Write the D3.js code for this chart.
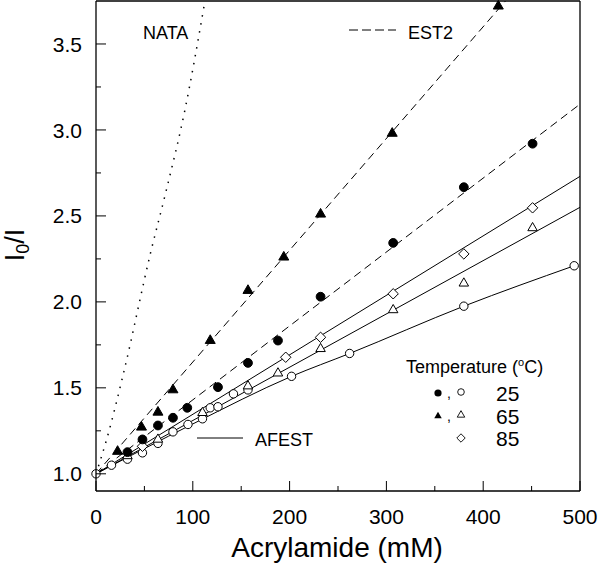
<!DOCTYPE html>
<html>
<head>
<meta charset="utf-8">
<script src="https://cdn.jsdelivr.net/npm/d3@7"></script>
<style>
  html, body { margin: 0; padding: 0; background: #fff; }
  svg { display: block; }
  text { font-family: "Liberation Sans", Arial, Helvetica, sans-serif; fill: #000; }
</style>
</head>
<body>
<svg id="chart" width="600" height="575"></svg>
<script>
// ---------------- data ----------------
const xTicks = [0, 100, 200, 300, 400, 500];
const xMinorTicks = [50, 150, 250, 350, 450];
const yTicks = [1.0, 1.5, 2.0, 2.5, 3.0, 3.5];
const yMinorTicks = [1.25, 1.75, 2.25, 2.75, 3.25];

// EST2, 25 °C (filled circles)
const est2_25_x = [32.5, 48, 64, 79.5, 94.3, 126, 157, 188, 232, 307, 380, 451];
const est2_25_y = [1.126, 1.20, 1.281, 1.326, 1.384, 1.504, 1.645, 1.775, 2.03, 2.343, 2.667, 2.92];
// EST2, 65 °C (filled triangles)
const est2_65_x = [22.3, 47, 64, 79.5, 118, 157, 194, 232, 306, 415.6];
const est2_65_y = [1.13, 1.271, 1.358, 1.488, 1.775, 2.066, 2.26, 2.51, 2.98, 3.72];
// AFEST, 25 °C (open circles)
const afest25_x = [0, 16, 32.5, 48, 64, 79.5, 95, 110, 118, 126, 142, 157, 202, 262, 380, 494];
const afest25_y = [1.0, 1.05, 1.085, 1.122, 1.177, 1.244, 1.287, 1.32, 1.384, 1.39, 1.465, 1.488, 1.567, 1.70, 1.975, 2.21];
// AFEST, 65 °C (open triangles)
const afest65_x = [32.5, 64, 110, 157, 188, 232, 307, 380, 451];
const afest65_y = [1.104, 1.20, 1.355, 1.51, 1.585, 1.727, 1.953, 2.108, 2.43];
// AFEST, 85 °C (open diamonds)
const afest85_x = [48, 196, 232, 307, 380, 451];
const afest85_y = [1.16, 1.678, 1.794, 2.047, 2.279, 2.547];

// fitted curves
const nataFit_x = [0, 11, 28, 57, 72, 92, 111.5];
const nataFit_y = [1.0, 1.2, 1.575, 2.30, 2.635, 3.12, 3.716];
const est2_65Fit_x = [0, 423];
const est2_65Fit_y = [1.0, 3.75];
const est2_25Fit_x = [0, 500];
const est2_25Fit_y = [1.0, 3.15];
const afest85Fit_x = [0, 500];
const afest85Fit_y = [1.0, 2.73];
const afest65Fit_x = [0, 500];
const afest65Fit_y = [1.0, 2.55];
const afest25Fit_x = [0, 100, 202, 262, 380, 494];
const afest25Fit_y = [1.0, 1.29, 1.567, 1.70, 1.975, 2.21];

const legendTitle = "Temperature (";
const legendTemps = ["25", "65", "85"];
const lineLabels = ["NATA", "EST2", "AFEST"];
const xTitle = "Acrylamide (mM)";

// ---------------- layout ----------------
const svg = d3.select("#chart");
const L = 96, R = 580, T = 1, B = 491;
const x = d3.scaleLinear().domain([0, 500]).range([L, R]);
const y = d3.scaleLinear().domain([0.9, 3.75]).range([B, T]);

const zip = (xs, ys) => xs.map((v, i) => [v, ys[i]]);

svg.append("defs").append("clipPath").attr("id", "clip")
  .append("rect").attr("x", L).attr("y", T).attr("width", R - L).attr("height", B - T);

const plot = svg.append("g").attr("clip-path", "url(#clip)");

// ---------- fit lines ----------
const lineGen = d3.line().x(d => x(d[0])).y(d => y(d[1]));
const curveGen = d3.line().x(d => x(d[0])).y(d => y(d[1])).curve(d3.curveMonotoneX);

function drawLine(xs, ys, dash, gen, width) {
  plot.append("path")
    .attr("d", (gen || lineGen)(zip(xs, ys)))
    .attr("fill", "none")
    .attr("stroke", "#000")
    .attr("stroke-width", width || 1)
    .attr("stroke-dasharray", dash || null);
}
drawLine(nataFit_x, nataFit_y, "1.5,6.6", curveGen, 1.5);
drawLine(est2_65Fit_x, est2_65Fit_y, "8,5");
drawLine(est2_25Fit_x, est2_25Fit_y, "8,5");
drawLine(afest85Fit_x, afest85Fit_y);
drawLine(afest65Fit_x, afest65Fit_y);
drawLine(afest25Fit_x, afest25Fit_y, null, curveGen);

// ---------- markers ----------
function triPath(s) {
  const h = s * Math.sqrt(3) / 2;
  return `M0,${-h * 2 / 3}L${s / 2},${h / 3}L${-s / 2},${h / 3}Z`;
}
function diaPath(r) {
  return `M0,${-r}L${r},0L0,${r}L${-r},0Z`;
}
const markers = svg.append("g");

function drawCircles(xs, ys, r, filled) {
  markers.selectAll(null).data(zip(xs, ys)).enter().append("circle")
    .attr("cx", d => x(d[0])).attr("cy", d => y(d[1])).attr("r", r)
    .attr("fill", filled ? "#000" : "#fff")
    .attr("stroke", "#000").attr("stroke-width", 1);
}
function drawPaths(xs, ys, path, filled) {
  markers.selectAll(null).data(zip(xs, ys)).enter().append("path")
    .attr("d", path)
    .attr("transform", d => `translate(${x(d[0])},${y(d[1])})`)
    .attr("fill", filled ? "#000" : "#fff")
    .attr("stroke", "#000").attr("stroke-width", 1);
}
drawCircles(afest25_x, afest25_y, 4.2, false);
drawPaths(afest65_x, afest65_y, triPath(9.5), false);
drawPaths(afest85_x, afest85_y, diaPath(5.2), false);
drawCircles(est2_25_x, est2_25_y, 4.4, true);
drawPaths(est2_65_x, est2_65_y, triPath(10), true);

// ---------- axes ----------
const axes = svg.append("g");
axes.append("line").attr("x1", L).attr("x2", L).attr("y1", T).attr("y2", B)
  .attr("stroke", "#000").attr("stroke-width", 1.3);
axes.append("line").attr("x1", L).attr("x2", R).attr("y1", B).attr("y2", B)
  .attr("stroke", "#000").attr("stroke-width", 1.3);
axes.append("line").attr("x1", L).attr("x2", R).attr("y1", T).attr("y2", T)
  .attr("stroke", "#000").attr("stroke-width", 1.3);
axes.append("line").attr("x1", R).attr("x2", R).attr("y1", T).attr("y2", B)
  .attr("stroke", "#000").attr("stroke-width", 1.3);

// y ticks (inside)
axes.selectAll(null).data(yTicks).enter().append("line")
  .attr("x1", L).attr("x2", L + 10).attr("y1", d => y(d)).attr("y2", d => y(d))
  .attr("stroke", "#000").attr("stroke-width", 1);
axes.selectAll(null).data(yMinorTicks).enter().append("line")
  .attr("x1", L).attr("x2", L + 5).attr("y1", d => y(d)).attr("y2", d => y(d))
  .attr("stroke", "#000").attr("stroke-width", 1);
axes.selectAll(null).data(yTicks).enter().append("text")
  .attr("x", 82).attr("y", d => y(d)).attr("dy", "0.36em")
  .attr("text-anchor", "end").attr("font-size", 21)
  .text(d => d3.format(".1f")(d));

// x ticks (inside)
axes.selectAll(null).data(xTicks).enter().append("line")
  .attr("x1", d => x(d)).attr("x2", d => x(d)).attr("y1", B).attr("y2", B - 10)
  .attr("stroke", "#000").attr("stroke-width", 1);
axes.selectAll(null).data(xMinorTicks).enter().append("line")
  .attr("x1", d => x(d)).attr("x2", d => x(d)).attr("y1", B).attr("y2", B - 5)
  .attr("stroke", "#000").attr("stroke-width", 1);
axes.selectAll(null).data(xTicks).enter().append("text")
  .attr("x", d => x(d)).attr("y", 524)
  .attr("text-anchor", "middle").attr("font-size", 21)
  .text(d => d);

// axis titles
svg.append("text").attr("x", 337).attr("y", 557)
  .attr("text-anchor", "middle").attr("font-size", 28).text(xTitle);

const yt = svg.append("text").attr("transform", "translate(24,245) rotate(-90)")
  .attr("text-anchor", "middle").attr("font-size", 27);
yt.append("tspan").text("I");
yt.append("tspan").attr("font-size", 18).attr("dy", 5).text("0");
yt.append("tspan").attr("dy", -5).text("/I");

// ---------- line-style labels ----------
svg.append("text").attr("x", 143).attr("y", 39).attr("font-size", 18).text(lineLabels[0]);

svg.append("line").attr("x1", 349).attr("x2", 396).attr("y1", 30).attr("y2", 30)
  .attr("stroke", "#000").attr("stroke-width", 1).attr("stroke-dasharray", "9,4");
svg.append("text").attr("x", 408).attr("y", 39).attr("font-size", 18).text(lineLabels[1]);

svg.append("line").attr("x1", 197).attr("x2", 243).attr("y1", 438).attr("y2", 438)
  .attr("stroke", "#000").attr("stroke-width", 1);
svg.append("text").attr("x", 255).attr("y", 446).attr("font-size", 18).text(lineLabels[2]);

// ---------- temperature legend ----------
const lt = svg.append("text").attr("x", 406).attr("y", 373).attr("font-size", 18);
lt.append("tspan").text(legendTitle);
lt.append("tspan").attr("font-size", 11).attr("dy", -7).text("o");
lt.append("tspan").attr("dy", 7).text("C)");

const leg = svg.append("g");
const rowY = [393, 416, 438];
// row 1
leg.append("circle").attr("cx", 438).attr("cy", rowY[0]).attr("r", 3.6).attr("fill", "#000");
leg.append("text").attr("x", 447).attr("y", rowY[0] + 5).attr("font-size", 14).text(",");
leg.append("circle").attr("cx", 461).attr("cy", rowY[0] - 1).attr("r", 3.3)
  .attr("fill", "#fff").attr("stroke", "#000").attr("stroke-width", 0.9);
// row 2
leg.append("path").attr("d", triPath(7.5)).attr("transform", `translate(438,${rowY[1]})`).attr("fill", "#000");
leg.append("text").attr("x", 447).attr("y", rowY[1] + 5).attr("font-size", 14).text(",");
leg.append("path").attr("d", triPath(7.5)).attr("transform", `translate(461,${rowY[1] - 1})`)
  .attr("fill", "#fff").attr("stroke", "#000").attr("stroke-width", 0.9);
// row 3
leg.append("path").attr("d", diaPath(4.2)).attr("transform", `translate(461,${rowY[2]})`)
  .attr("fill", "#fff").attr("stroke", "#000").attr("stroke-width", 0.9);

leg.selectAll(null).data(legendTemps).enter().append("text")
  .attr("x", 496).attr("y", (d, i) => rowY[i] + 8).attr("font-size", 21)
  .text(d => d);
</script>
</body>
</html>
